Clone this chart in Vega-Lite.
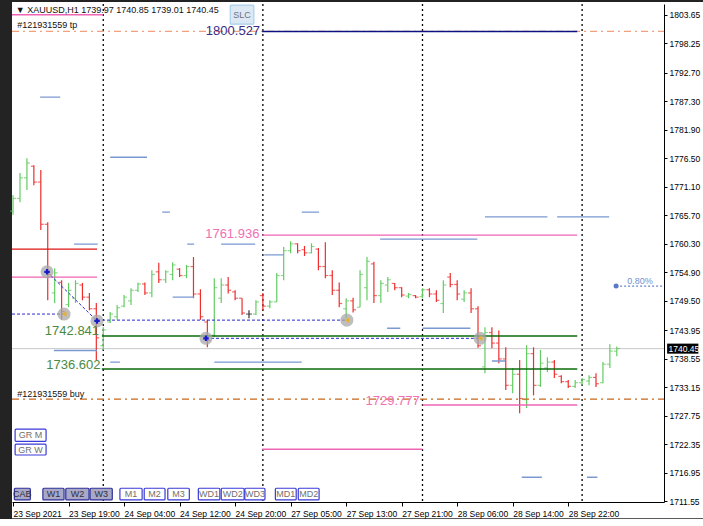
{
 "$schema": "https://vega.github.io/schema/vega-lite/v6.json",
 "width": 652,
 "height": 498,
 "padding": {"left": 10, "top": 2, "right": 0, "bottom": 0},
 "background": "#232323",
 "config": {
  "view": {"stroke": null},
  "axis": {"labelFont": "Liberation Sans", "labelFontSize": 8.5, "labelColor": "#000000", "tickColor": "#000000", "domain": true, "domainColor": "#000000", "domainWidth": 1, "grid": false, "labelOverlap": false}
 },
 "resolve": {"scale": {"color": "independent", "fill": "independent", "stroke": "independent", "shape": "independent", "strokeWidth": "independent", "strokeDash": "independent"}},
 "datasets": {
  "panel": [{"x1": -0.15, "x2": 99.8, "p1": 1708.3, "p2": 1806.1}],
  "bars": [
   {"i":0,"o":1766.5,"h":1769.5,"l":1765.8,"c":1768.9},
   {"i":1,"o":1768.9,"h":1773.7,"l":1768.2,"c":1772.8},
   {"i":2,"o":1772.8,"h":1776.5,"l":1770.5,"c":1775.6},
   {"i":3,"o":1775.0,"h":1775.2,"l":1771.4,"c":1772.0},
   {"i":4,"o":1772.0,"h":1774.3,"l":1762.9,"c":1764.0},
   {"i":5,"o":1764.0,"h":1764.4,"l":1749.6,"c":1754.5},
   {"i":6,"o":1751.0,"h":1755.7,"l":1749.1,"c":1754.8},
   {"i":7,"o":1753.0,"h":1753.4,"l":1745.9,"c":1747.5},
   {"i":8,"o":1748.8,"h":1752.9,"l":1748.3,"c":1751.5},
   {"i":9,"o":1750.0,"h":1753.4,"l":1749.1,"c":1752.8},
   {"i":10,"o":1752.5,"h":1752.9,"l":1749.6,"c":1750.2},
   {"i":11,"o":1750.2,"h":1751.0,"l":1747.7,"c":1748.0},
   {"i":12,"o":1748.0,"h":1749.1,"l":1738.3,"c":1742.5},
   {"i":13,"o":1741.0,"h":1744.5,"l":1740.2,"c":1744.0},
   {"i":14,"o":1745.5,"h":1747.4,"l":1745.3,"c":1747.0},
   {"i":15,"o":1746.5,"h":1748.7,"l":1745.9,"c":1748.2},
   {"i":16,"o":1748.5,"h":1750.6,"l":1748.3,"c":1750.2},
   {"i":17,"o":1749.5,"h":1751.9,"l":1748.7,"c":1751.5},
   {"i":18,"o":1751.5,"h":1753.0,"l":1751.2,"c":1752.7},
   {"i":19,"o":1752.7,"h":1753.0,"l":1750.6,"c":1751.0},
   {"i":20,"o":1751.0,"h":1755.3,"l":1750.2,"c":1754.5},
   {"i":21,"o":1755.0,"h":1756.7,"l":1752.9,"c":1753.5},
   {"i":22,"o":1753.5,"h":1755.3,"l":1752.9,"c":1755.0},
   {"i":23,"o":1754.5,"h":1756.8,"l":1753.4,"c":1756.3},
   {"i":24,"o":1755.5,"h":1755.7,"l":1754.0,"c":1754.3},
   {"i":25,"o":1754.3,"h":1756.3,"l":1753.8,"c":1756.0},
   {"i":26,"o":1756.0,"h":1757.8,"l":1750.0,"c":1750.8},
   {"i":27,"o":1750.8,"h":1751.7,"l":1745.9,"c":1746.5},
   {"i":28,"o":1745.5,"h":1745.9,"l":1740.7,"c":1742.0},
   {"i":29,"o":1743.0,"h":1753.8,"l":1742.6,"c":1752.0},
   {"i":30,"o":1750.0,"h":1753.8,"l":1749.1,"c":1752.5},
   {"i":31,"o":1752.5,"h":1754.0,"l":1750.9,"c":1751.5},
   {"i":32,"o":1751.2,"h":1751.5,"l":1749.6,"c":1750.0},
   {"i":33,"o":1750.0,"h":1750.0,"l":1746.8,"c":1747.2},
   {"i":34,"o":1747.0,"h":1747.7,"l":1746.2,"c":1747.0},
   {"i":35,"o":1747.0,"h":1749.6,"l":1746.8,"c":1749.3},
   {"i":36,"o":1750.5,"h":1751.0,"l":1747.7,"c":1748.5},
   {"i":37,"o":1748.5,"h":1749.6,"l":1748.1,"c":1749.3},
   {"i":38,"o":1749.3,"h":1754.8,"l":1749.3,"c":1754.3},
   {"i":39,"o":1754.3,"h":1759.7,"l":1753.4,"c":1759.0},
   {"i":40,"o":1759.0,"h":1760.8,"l":1758.5,"c":1760.3},
   {"i":41,"o":1760.3,"h":1760.4,"l":1758.5,"c":1759.0},
   {"i":42,"o":1759.2,"h":1759.9,"l":1758.0,"c":1758.6},
   {"i":43,"o":1758.6,"h":1760.4,"l":1758.5,"c":1759.8},
   {"i":44,"o":1759.3,"h":1759.5,"l":1755.3,"c":1756.0},
   {"i":45,"o":1756.0,"h":1760.6,"l":1753.8,"c":1754.3},
   {"i":46,"o":1754.3,"h":1755.3,"l":1750.6,"c":1751.5},
   {"i":47,"o":1751.5,"h":1753.0,"l":1748.3,"c":1749.0},
   {"i":48,"o":1748.0,"h":1750.0,"l":1746.2,"c":1749.5},
   {"i":49,"o":1749.5,"h":1750.1,"l":1747.3,"c":1747.8},
   {"i":50,"o":1748.3,"h":1755.3,"l":1748.3,"c":1754.5},
   {"i":51,"o":1752.0,"h":1757.8,"l":1749.6,"c":1757.0},
   {"i":52,"o":1756.5,"h":1756.9,"l":1749.1,"c":1750.5},
   {"i":53,"o":1750.5,"h":1753.4,"l":1749.1,"c":1752.8},
   {"i":54,"o":1752.5,"h":1754.0,"l":1751.2,"c":1753.5},
   {"i":55,"o":1752.8,"h":1752.9,"l":1751.5,"c":1752.0},
   {"i":56,"o":1752.0,"h":1752.1,"l":1750.2,"c":1750.6},
   {"i":57,"o":1750.4,"h":1751.0,"l":1750.0,"c":1750.7},
   {"i":58,"o":1750.5,"h":1750.6,"l":1750.0,"c":1750.2},
   {"i":59,"o":1750.3,"h":1751.9,"l":1750.0,"c":1751.6},
   {"i":60,"o":1751.6,"h":1751.9,"l":1750.2,"c":1750.8},
   {"i":61,"o":1750.8,"h":1751.5,"l":1749.3,"c":1749.6},
   {"i":62,"o":1749.0,"h":1753.4,"l":1747.2,"c":1752.5},
   {"i":63,"o":1754.0,"h":1754.8,"l":1752.1,"c":1752.6},
   {"i":64,"o":1752.6,"h":1753.4,"l":1749.6,"c":1750.8},
   {"i":65,"o":1749.8,"h":1751.5,"l":1749.3,"c":1751.0},
   {"i":66,"o":1751.0,"h":1751.9,"l":1747.2,"c":1748.0},
   {"i":67,"o":1748.0,"h":1748.5,"l":1740.6,"c":1741.0},
   {"i":68,"o":1737.0,"h":1744.5,"l":1735.8,"c":1743.5},
   {"i":69,"o":1743.5,"h":1744.5,"l":1740.5,"c":1741.5},
   {"i":70,"o":1741.5,"h":1743.9,"l":1737.7,"c":1738.5},
   {"i":71,"o":1738.5,"h":1740.7,"l":1732.6,"c":1733.5},
   {"i":72,"o":1733.5,"h":1736.8,"l":1732.0,"c":1735.6},
   {"i":73,"o":1735.6,"h":1738.3,"l":1728.2,"c":1731.0},
   {"i":74,"o":1730.8,"h":1741.1,"l":1729.2,"c":1739.5},
   {"i":75,"o":1739.5,"h":1740.7,"l":1731.6,"c":1733.5},
   {"i":76,"o":1733.5,"h":1740.2,"l":1733.2,"c":1737.7},
   {"i":77,"o":1736.8,"h":1738.8,"l":1736.0,"c":1737.9},
   {"i":78,"o":1737.9,"h":1738.3,"l":1734.9,"c":1735.6},
   {"i":79,"o":1735.2,"h":1735.4,"l":1733.9,"c":1734.2},
   {"i":80,"o":1734.2,"h":1734.5,"l":1733.0,"c":1733.3},
   {"i":81,"o":1733.3,"h":1734.5,"l":1733.0,"c":1734.0},
   {"i":82,"o":1734.0,"h":1734.9,"l":1733.5,"c":1734.6},
   {"i":83,"o":1734.3,"h":1735.4,"l":1733.5,"c":1735.0},
   {"i":84,"o":1735.0,"h":1735.8,"l":1733.2,"c":1733.8},
   {"i":85,"o":1734.0,"h":1737.9,"l":1733.9,"c":1737.5},
   {"i":86,"o":1737.5,"h":1741.3,"l":1736.8,"c":1740.0},
   {"i":87,"o":1739.97,"h":1740.85,"l":1739.01,"c":1740.45}
  ],
  "seps": [{"i":13},{"i":36},{"i":59},{"i":82}],
  "levels": [
   {"x":-0.15,"x2":93.8,"p":1740.45,"k":"price"},
   {"x":-0.15,"x2":93.8,"p":1800.527,"k":"tp"},
   {"x":-0.15,"x2":93.8,"p":1730.88,"k":"buy"},
   {"x":35.9,"x2":81.3,"p":1800.527,"k":"navy"},
   {"x":-0.15,"x2":13,"p":1803.7,"k":"pink"},
   {"x":-0.15,"x2":12.1,"p":1759.3,"k":"red"},
   {"x":-0.15,"x2":12.1,"p":1754.0,"k":"pink"},
   {"x":35.9,"x2":81.3,"p":1761.936,"k":"pink"},
   {"x":59,"x2":81.3,"p":1729.777,"k":"pink"},
   {"x":35.9,"x2":59,"p":1721.4,"k":"pink"},
   {"x":12.8,"x2":81.3,"p":1742.841,"k":"green"},
   {"x":12.8,"x2":81.3,"p":1736.602,"k":"green"},
   {"x":3.9,"x2":6.8,"p":1788.1,"k":"seg"},
   {"x":14,"x2":19.3,"p":1776.7,"k":"seg"},
   {"x":21.5,"x2":22.6,"p":1766.3,"k":"seg"},
   {"x":41.6,"x2":44.1,"p":1766.3,"k":"seg"},
   {"x":8.8,"x2":12.2,"p":1760.25,"k":"seg"},
   {"x":25.1,"x2":26.1,"p":1760.25,"k":"seg"},
   {"x":30,"x2":34.9,"p":1760.25,"k":"seg"},
   {"x":36.2,"x2":39.0,"p":1758.2,"k":"seg"},
   {"x":52.9,"x2":66.9,"p":1761.2,"k":"seg"},
   {"x":68,"x2":77,"p":1765.4,"k":"seg"},
   {"x":78.4,"x2":85.9,"p":1765.4,"k":"seg"},
   {"x":23,"x2":26.1,"p":1750.2,"k":"seg"},
   {"x":53.9,"x2":55.8,"p":1744.3,"k":"seg"},
   {"x":59,"x2":65.9,"p":1744.3,"k":"seg"},
   {"x":5.9,"x2":12.1,"p":1740.1,"k":"seg"},
   {"x":14,"x2":15.4,"p":1737.9,"k":"seg"},
   {"x":29,"x2":41.6,"p":1737.9,"k":"seg"},
   {"x":69,"x2":70.9,"p":1738.1,"k":"seg"},
   {"x":73.3,"x2":76.2,"p":1716.1,"k":"seg"},
   {"x":82.7,"x2":84.2,"p":1716.1,"k":"seg"},
   {"x":86.9,"x2":93.8,"p":1752.3,"k":"pct"}
  ],
  "trades": [
   {"x":4.9,"p":1755.0,"x2":12.1,"p2":1745.7},
   {"x":-0.15,"p":1747.0,"x2":7.35,"p2":1747.0},
   {"x":12.1,"p":1745.85,"x2":48.1,"p2":1745.85},
   {"x":27.8,"p":1742.4,"x2":67.3,"p2":1742.4}
  ],
  "hits": [
   {"x":4.9,"p":1755.0,"k":"entry"},
   {"x":7.35,"p":1747.0,"k":"exit"},
   {"x":12.1,"p":1745.7,"k":"entry"},
   {"x":27.8,"p":1742.4,"k":"entry"},
   {"x":48.1,"p":1745.85,"k":"exit"},
   {"x":67.3,"p":1742.4,"k":"exit"}
  ],
  "biglabels": [
   {"t":"1800.527","x":35.6,"p":1800.6,"k":"navy"},
   {"t":"1761.936","x":35.5,"p":1762.1,"k":"pink"},
   {"t":"1742.841","x":12.4,"p":1743.8,"k":"green"},
   {"t":"1736.602","x":12.6,"p":1737.3,"k":"green"},
   {"t":"1729.777","x":58.6,"p":1730.5,"k":"pink"}
  ],
  "smalltext": [
   {"t":"▼ XAUUSD,H1  1739.97 1740.85 1739.01 1740.45","x":0.4,"p":1804.6,"k":"head"},
   {"t":"#121931559 tp","x":0.6,"p":1801.75,"k":"head"},
   {"t":"#121931559 buy","x":0.6,"p":1731.8,"k":"head"},
   {"t":"0.80%","x":88.5,"p":1753.2,"k":"pct"}
  ],
  "pctdot": [{"x":86.9,"p":1752.3}],
  "buttons": [
   {"t":"CAB","x1":0.19,"x2":2.49,"p1":1711.8,"p2":1714.0,"k":"on"},
   {"t":"W1","x1":4.3,"x2":7.35,"p1":1711.8,"p2":1714.0,"k":"on"},
   {"t":"W2","x1":7.6,"x2":10.95,"p1":1711.8,"p2":1714.0,"k":"on"},
   {"t":"W3","x1":11.1,"x2":14.3,"p1":1711.8,"p2":1714.0,"k":"on"},
   {"t":"M1","x1":15.4,"x2":18.6,"p1":1711.8,"p2":1714.0,"k":"off"},
   {"t":"M2","x1":18.9,"x2":21.9,"p1":1711.8,"p2":1714.0,"k":"off"},
   {"t":"M3","x1":22.3,"x2":25.4,"p1":1711.8,"p2":1714.0,"k":"off"},
   {"t":"WD1","x1":26.7,"x2":29.8,"p1":1711.8,"p2":1714.0,"k":"off"},
   {"t":"WD2","x1":30.0,"x2":33.3,"p1":1711.8,"p2":1714.0,"k":"off"},
   {"t":"WD3","x1":33.4,"x2":36.3,"p1":1711.8,"p2":1714.0,"k":"off"},
   {"t":"MD1","x1":37.8,"x2":40.8,"p1":1711.8,"p2":1714.0,"k":"off"},
   {"t":"MD2","x1":41.1,"x2":44.1,"p1":1711.8,"p2":1714.0,"k":"off"},
   {"t":"GR M","x1":0.3,"x2":4.76,"p1":1722.9,"p2":1725.2,"k":"off"},
   {"t":"GR W","x1":0.3,"x2":4.76,"p1":1720.3,"p2":1722.35,"k":"off"},
   {"t":"SLC","x1":31.3,"x2":34.7,"p1":1801.9,"p2":1805.5,"k":"slc"}
  ],
  "cur": [{"x1":94.25,"x2":98.75,"p1":1739.5,"p2":1741.4,"t":"1740.45","x":94.45,"p":1740.45}]
 },
 "layer": [
  {
   "data": {"name": "panel"},
   "mark": {"type": "rect", "color": "#ffffff"},
   "encoding": {
    "x": {"field": "x1", "type": "quantitative", "title": null, "scale": {"domain": [-0.15, 93.8], "nice": false, "zero": false},
     "axis": {"zindex": 1, "labelOverlap": false, "tickCount": 30, "values": [0, 8, 16, 24, 32, 40, 48, 56, 64, 72, 80], "labelAlign": "left", "labelBaseline": "top", "labelPadding": 3, "tickSize": 4, "labelFlush": false,
      "labelExpr": "['23 Sep 2021','23 Sep 19:00','24 Sep 04:00','24 Sep 12:00','24 Sep 20:00','27 Sep 05:00','27 Sep 13:00','27 Sep 21:00','28 Sep 06:00','28 Sep 14:00','28 Sep 22:00'][round(datum.value / 8)]"}},
    "x2": {"field": "x2"},
    "y": {"field": "p1", "type": "quantitative", "title": null, "scale": {"domain": [1711.4, 1805.73], "nice": false, "zero": false},
     "axis": {"zindex": 1, "labelOverlap": false, "tickCount": 40, "orient": "right", "values": [1803.65, 1798.25, 1792.7, 1787.3, 1781.9, 1776.5, 1771.1, 1765.7, 1760.3, 1754.9, 1749.5, 1743.95, 1738.55, 1733.15, 1727.75, 1722.35, 1716.95, 1711.55], "format": ".2f", "tickSize": 3, "labelPadding": 2}},
    "y2": {"field": "p2"}
   }
  },
  {
   "data": {"name": "seps"},
   "mark": {"type": "rule", "color": "#000000", "strokeWidth": 1.3, "strokeDash": [2, 3]},
   "encoding": {
    "x": {"field": "i", "type": "quantitative", "title": null, "scale": {"domain": [-0.15, 93.8], "nice": false, "zero": false}}
   }
  },
  {
   "data": {"name": "levels"},
   "transform": [{"filter": "datum.k == 'price'"}],
   "mark": {"type": "rule", "color": "#c8c8c8", "strokeWidth": 1},
   "encoding": {
    "x": {"field": "x", "type": "quantitative", "title": null, "scale": {"domain": [-0.15, 93.8], "nice": false, "zero": false}},
    "x2": {"field": "x2"},
    "y": {"field": "p", "type": "quantitative", "title": null, "scale": {"domain": [1711.4, 1805.73], "nice": false, "zero": false}}
   }
  },
  {
   "data": {"name": "bars"},
   "mark": {"type": "rule", "strokeWidth": 1.2},
   "encoding": {
    "x": {"field": "i", "type": "quantitative", "title": null, "scale": {"domain": [-0.15, 93.8], "nice": false, "zero": false}},
    "y": {"field": "l", "type": "quantitative", "title": null, "scale": {"domain": [1711.4, 1805.73], "nice": false, "zero": false}},
    "y2": {"field": "h"},
    "color": {"condition": [{"test": "datum.c > datum.o", "value": "#62cc62"}, {"test": "datum.c < datum.o", "value": "#ee2d2d"}], "value": "#303030"}
   }
  },
  {
   "data": {"name": "bars"},
   "mark": {"type": "tick", "orient": "horizontal", "size": 3, "thickness": 1.2, "xOffset": -1.5},
   "encoding": {
    "x": {"field": "i", "type": "quantitative", "title": null, "scale": {"domain": [-0.15, 93.8], "nice": false, "zero": false}},
    "y": {"field": "o", "type": "quantitative", "title": null, "scale": {"domain": [1711.4, 1805.73], "nice": false, "zero": false}},
    "color": {"condition": [{"test": "datum.c > datum.o", "value": "#62cc62"}, {"test": "datum.c < datum.o", "value": "#ee2d2d"}], "value": "#303030"}
   }
  },
  {
   "data": {"name": "bars"},
   "mark": {"type": "tick", "orient": "horizontal", "size": 3, "thickness": 1.2, "xOffset": 1.5},
   "encoding": {
    "x": {"field": "i", "type": "quantitative", "title": null, "scale": {"domain": [-0.15, 93.8], "nice": false, "zero": false}},
    "y": {"field": "c", "type": "quantitative", "title": null, "scale": {"domain": [1711.4, 1805.73], "nice": false, "zero": false}},
    "color": {"condition": [{"test": "datum.c > datum.o", "value": "#62cc62"}, {"test": "datum.c < datum.o", "value": "#ee2d2d"}], "value": "#303030"}
   }
  },
  {
   "data": {"name": "levels"},
   "transform": [{"filter": "datum.k != 'price'"}],
   "mark": {"type": "rule"},
   "encoding": {
    "x": {"field": "x", "type": "quantitative", "title": null, "scale": {"domain": [-0.15, 93.8], "nice": false, "zero": false}},
    "x2": {"field": "x2"},
    "y": {"field": "p", "type": "quantitative", "title": null, "scale": {"domain": [1711.4, 1805.73], "nice": false, "zero": false}},
    "color": {"field": "k", "type": "nominal", "legend": null, "scale": {"domain": ["tp", "buy", "navy", "pink", "red", "green", "seg", "pct"], "range": ["#f3a07e", "#c8651c", "#0c1280", "#f064b4", "#e01414", "#0a6a0a", "#7b98d2", "#6a86cc"]}},
    "strokeWidth": {"field": "k", "type": "nominal", "legend": null, "scale": {"domain": ["tp", "buy", "navy", "pink", "red", "green", "seg", "pct"], "range": [1.3, 1.4, 3, 3, 3, 3, 1.5, 1]}},
    "strokeDash": {"field": "k", "type": "nominal", "legend": null, "scale": {"domain": ["tp", "buy", "navy", "pink", "red", "green", "seg", "pct"], "range": [[7, 4, 2, 4], [7, 4, 2, 4], [1, 0], [1, 0], [1, 0], [1, 0], [1, 0], [2, 2]]}}
   }
  },
  {
   "data": {"name": "trades"},
   "mark": {"type": "rule", "color": "#2a2ad0", "strokeWidth": 1, "strokeDash": [3, 2]},
   "encoding": {
    "x": {"field": "x", "type": "quantitative", "title": null, "scale": {"domain": [-0.15, 93.8], "nice": false, "zero": false}},
    "x2": {"field": "x2"},
    "y": {"field": "p", "type": "quantitative", "title": null, "scale": {"domain": [1711.4, 1805.73], "nice": false, "zero": false}},
    "y2": {"field": "p2"}
   }
  },
  {
   "data": {"name": "hits"},
   "mark": {"type": "point", "filled": true, "size": 170, "color": "#a8a8a8", "opacity": 0.75},
   "encoding": {
    "x": {"field": "x", "type": "quantitative", "title": null, "scale": {"domain": [-0.15, 93.8], "nice": false, "zero": false}},
    "y": {"field": "p", "type": "quantitative", "title": null, "scale": {"domain": [1711.4, 1805.73], "nice": false, "zero": false}}
   }
  },
  {
   "data": {"name": "hits"},
   "mark": {"type": "point", "filled": true, "size": 30, "opacity": 1},
   "encoding": {
    "x": {"field": "x", "type": "quantitative", "title": null, "scale": {"domain": [-0.15, 93.8], "nice": false, "zero": false}},
    "y": {"field": "p", "type": "quantitative", "title": null, "scale": {"domain": [1711.4, 1805.73], "nice": false, "zero": false}},
    "shape": {"field": "k", "type": "nominal", "legend": null, "scale": {"domain": ["entry", "exit"], "range": ["cross", "triangle-left"]}},
    "color": {"field": "k", "type": "nominal", "legend": null, "scale": {"domain": ["entry", "exit"], "range": ["#1a1acc", "#e8b030"]}}
   }
  },
  {
   "data": {"name": "biglabels"},
   "mark": {"type": "text", "align": "right", "baseline": "middle", "font": "Liberation Sans", "fontSize": 13},
   "encoding": {
    "x": {"field": "x", "type": "quantitative", "title": null, "scale": {"domain": [-0.15, 93.8], "nice": false, "zero": false}},
    "y": {"field": "p", "type": "quantitative", "title": null, "scale": {"domain": [1711.4, 1805.73], "nice": false, "zero": false}},
    "text": {"field": "t"},
    "color": {"field": "k", "type": "nominal", "legend": null, "scale": {"domain": ["navy", "pink", "green"], "range": ["#3b2d86", "#f070b4", "#4b8a42"]}}
   }
  },
  {
   "data": {"name": "smalltext"},
   "mark": {"type": "text", "align": "left", "baseline": "middle", "font": "Liberation Sans", "fontSize": 9},
   "encoding": {
    "x": {"field": "x", "type": "quantitative", "title": null, "scale": {"domain": [-0.15, 93.8], "nice": false, "zero": false}},
    "y": {"field": "p", "type": "quantitative", "title": null, "scale": {"domain": [1711.4, 1805.73], "nice": false, "zero": false}},
    "text": {"field": "t"},
    "color": {"field": "k", "type": "nominal", "legend": null, "scale": {"domain": ["head", "pct"], "range": ["#111111", "#7090d0"]}}
   }
  },
  {
   "data": {"name": "pctdot"},
   "mark": {"type": "point", "filled": true, "size": 25, "color": "#5a78c8", "opacity": 1},
   "encoding": {
    "x": {"field": "x", "type": "quantitative", "title": null, "scale": {"domain": [-0.15, 93.8], "nice": false, "zero": false}},
    "y": {"field": "p", "type": "quantitative", "title": null, "scale": {"domain": [1711.4, 1805.73], "nice": false, "zero": false}}
   }
  },
  {
   "data": {"name": "buttons"},
   "mark": {"type": "rect", "strokeWidth": 1.2, "cornerRadius": 1},
   "encoding": {
    "x": {"field": "x1", "type": "quantitative", "title": null, "scale": {"domain": [-0.15, 93.8], "nice": false, "zero": false}},
    "x2": {"field": "x2"},
    "y": {"field": "p1", "type": "quantitative", "title": null, "scale": {"domain": [1711.4, 1805.73], "nice": false, "zero": false}},
    "y2": {"field": "p2"},
    "fill": {"field": "k", "type": "nominal", "legend": null, "scale": {"domain": ["on", "off", "slc"], "range": ["#a8a8c8", "#ffffff", "#dce9f5"]}},
    "stroke": {"field": "k", "type": "nominal", "legend": null, "scale": {"domain": ["on", "off", "slc"], "range": ["#30309a", "#3a3ad8", "#a8d0ea"]}}
   }
  },
  {
   "data": {"name": "buttons"},
   "transform": [{"calculate": "(datum.x1 + datum.x2) / 2", "as": "xm"}, {"calculate": "(datum.p1 + datum.p2) / 2", "as": "pm"}],
   "mark": {"type": "text", "align": "center", "baseline": "middle", "font": "Liberation Sans", "fontSize": 9},
   "encoding": {
    "x": {"field": "xm", "type": "quantitative", "title": null, "scale": {"domain": [-0.15, 93.8], "nice": false, "zero": false}},
    "y": {"field": "pm", "type": "quantitative", "title": null, "scale": {"domain": [1711.4, 1805.73], "nice": false, "zero": false}},
    "text": {"field": "t"},
    "color": {"field": "k", "type": "nominal", "legend": null, "scale": {"domain": ["on", "off", "slc"], "range": ["#303040", "#707070", "#707080"]}}
   }
  },
  {
   "data": {"name": "cur"},
   "mark": {"type": "rect", "color": "#000000"},
   "encoding": {
    "x": {"field": "x1", "type": "quantitative", "title": null, "scale": {"domain": [-0.15, 93.8], "nice": false, "zero": false}},
    "x2": {"field": "x2"},
    "y": {"field": "p1", "type": "quantitative", "title": null, "scale": {"domain": [1711.4, 1805.73], "nice": false, "zero": false}},
    "y2": {"field": "p2"}
   }
  },
  {
   "data": {"name": "cur"},
   "mark": {"type": "text", "align": "left", "baseline": "middle", "font": "Liberation Sans", "fontSize": 8.5, "color": "#ffffff"},
   "encoding": {
    "x": {"field": "x", "type": "quantitative", "title": null, "scale": {"domain": [-0.15, 93.8], "nice": false, "zero": false}},
    "y": {"field": "p", "type": "quantitative", "title": null, "scale": {"domain": [1711.4, 1805.73], "nice": false, "zero": false}},
    "text": {"field": "t"}
   }
  }
 ]
}
